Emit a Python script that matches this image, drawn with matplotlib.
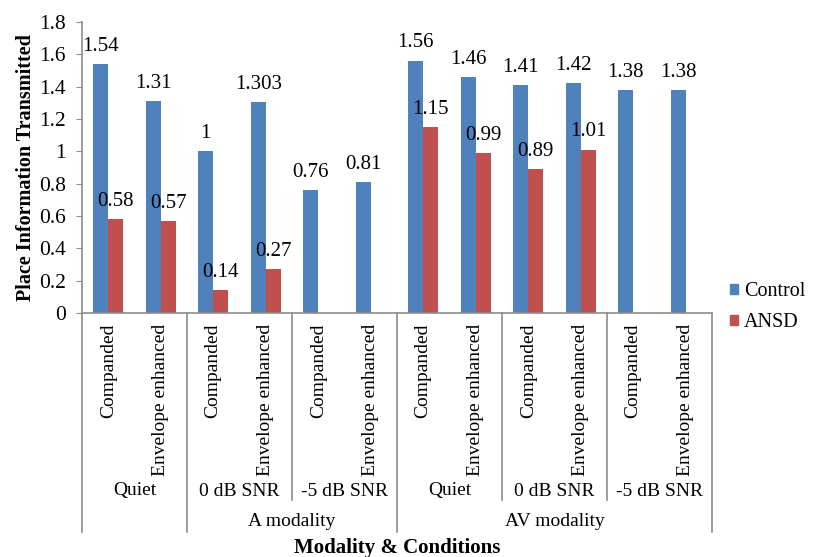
import matplotlib
matplotlib.use('Agg')
import matplotlib.pyplot as plt
from matplotlib.patches import Patch
import numpy as np

plt.rcParams['font.family'] = 'Liberation Serif'

# processing conditions (bottom level of the category axis)
conditions = ['Companded', 'Envelope enhanced'] * 6
# listening situations (middle level)
situations = ['Quiet', '0 dB SNR', '-5 dB SNR', 'Quiet', '0 dB SNR', '-5 dB SNR']
# modality (top level); first Quiet pair has no modality label
modalities = ['A modality', 'AV modality']

control = [1.54, 1.31, 1.0, 1.303, 0.76, 0.81, 1.56, 1.46, 1.41, 1.42, 1.38, 1.38]
ansd = [0.58, 0.57, 0.14, 0.27, None, None, 1.15, 0.99, 0.89, 1.01, None, None]
control_labels = ['1.54', '1.31', '1', '1.303', '0.76', '0.81', '1.56', '1.46', '1.41', '1.42', '1.38', '1.38']
ansd_labels = ['0.58', '0.57', '0.14', '0.27', '', '', '1.15', '0.99', '0.89', '1.01', '', '']

blue = '#4F81BD'
red = '#C0504D'
grey = '#8C8C8C'

W, H = 816, 557
fig = plt.figure(figsize=(W / 100, H / 100), dpi=100)
ax_l, ax_r, ax_t, ax_b = 82, 712, 22, 313
ax = fig.add_axes([ax_l / W, 1 - ax_b / H, (ax_r - ax_l) / W, (ax_b - ax_t) / H])

def fy(py):
    # pixel row -> axes fraction
    return (ax_b - py) / (ax_b - ax_t)

x = np.arange(len(control))
bw = 0.286
ctrl_vals = np.array(control, dtype=float)
ansd_vals = np.array([np.nan if v is None else v for v in ansd])
ax.bar(x - bw / 2, ctrl_vals, bw, color=blue, label='Control')
ax.bar(x + bw / 2, np.nan_to_num(ansd_vals), bw, color=red, label='ANSD')

for i in x:
    ax.annotate(control_labels[i], (i - bw / 2, ctrl_vals[i]), xytext=(0, 6),
                textcoords='offset points', ha='center', va='bottom', fontsize=15)
    if ansd_labels[i]:
        ax.annotate(ansd_labels[i], (i + bw / 2, ansd_vals[i]), xytext=(0, 6),
                    textcoords='offset points', ha='center', va='bottom', fontsize=15)

ax.set_xlim(-0.5, len(control) - 0.5)
ax.set_ylim(0, 1.8)
yt = np.arange(0, 1.81, 0.2)
ax.set_yticks(yt)
ax.set_yticklabels(['%g' % round(v, 1) for v in yt], fontsize=15.5)
ax.tick_params(axis='y', direction='out', length=4.5, color=grey, pad=7)
ax.set_xticks([])
for s in ['top', 'right']:
    ax.spines[s].set_visible(False)
for s in ['left', 'bottom']:
    ax.spines[s].set_color(grey)
    ax.spines[s].set_linewidth(1.2)

ax.set_ylabel('Place Information Transmitted', fontsize=14.5, fontweight='bold', labelpad=2)

trans = ax.get_xaxis_transform()
# bottom level labels
for i, c in enumerate(conditions):
    ax.text(i, fy(324), c, rotation=90, ha='center', va='top', fontsize=14,
            transform=trans, clip_on=False)
# middle level labels
for j, s in enumerate(situations):
    ax.text(2 * j + 0.5, fy(491), s, ha='center', va='center', fontsize=14,
            transform=trans, clip_on=False)
# top level labels
ax.text(3.5, fy(522), modalities[0], ha='center', va='center', fontsize=14,
        transform=trans, clip_on=False)
ax.text(8.5, fy(522), modalities[1], ha='center', va='center', fontsize=14,
        transform=trans, clip_on=False)

# separators between category groups
for xb in [-0.5, 1.5, 5.5, 11.5]:
    ax.plot([xb, xb], [0, fy(532)], color=grey, lw=1.2, transform=trans, clip_on=False)
for xb in [3.5, 7.5, 9.5]:
    ax.plot([xb, xb], [0, fy(500)], color=grey, lw=1.2, transform=trans, clip_on=False)

fig.text(397 / W, 1 - 548 / H, 'Modality & Conditions', ha='center', va='center',
         fontsize=15, fontweight='bold')

handles = [Patch(color=blue, label='Control'), Patch(color=red, label='ANSD')]
fig.legend(handles=handles, loc='center left', bbox_to_anchor=(730 / W, 1 - 307 / H),
           frameon=False, fontsize=14.5, handlelength=0.4, handleheight=0.4,
           handletextpad=0.3, labelspacing=0.6, borderpad=0, borderaxespad=0)

fig.savefig('out.png', dpi=100)
